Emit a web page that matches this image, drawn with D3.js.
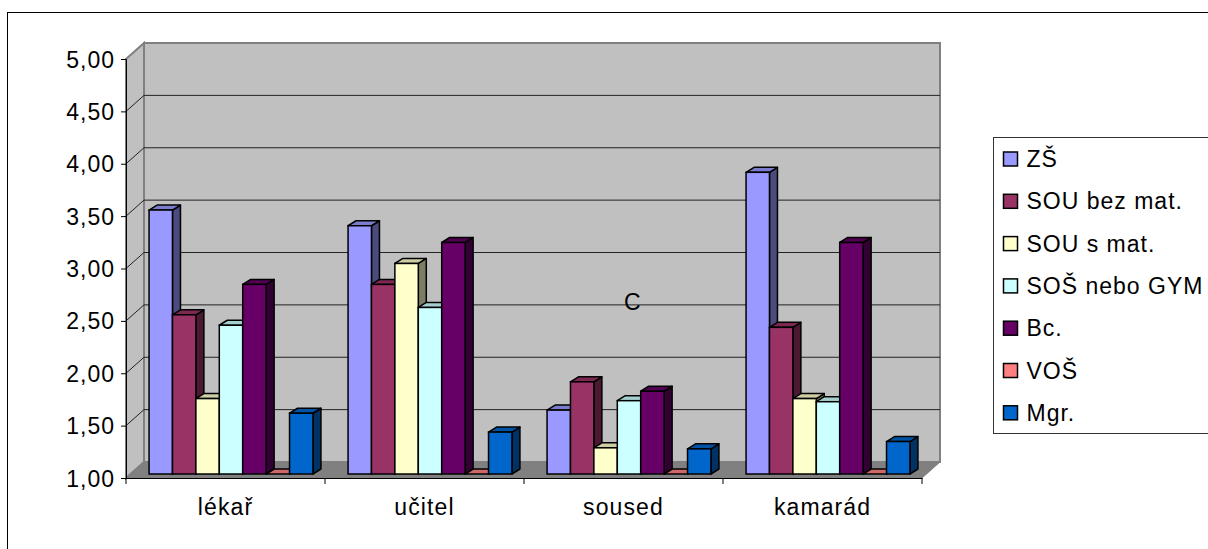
<!DOCTYPE html>
<html><head><meta charset="utf-8">
<script src="https://cdn.jsdelivr.net/npm/d3@7"></script>
<style>
html,body{margin:0;padding:0;background:#fff;overflow:hidden}
text{font-family:"Liberation Sans",Arial,sans-serif;fill:#000}
</style></head>
<body>
<svg id="c" width="1208" height="549"></svg>
<script>
// ---- data ----
const categories = ["lékař", "učitel", "soused", "kamarád"];
const seriesNames = ["ZŠ", "SOU bez mat.", "SOU s mat.", "SOŠ nebo GYM", "Bc.", "VOŠ", "Mgr."];
const seriesColors = ["#9999FF", "#993366", "#FFFFCC", "#CCFFFF", "#660066", "#FF8080", "#0066CC"];
const valZS      = [3.52, 3.37, 1.61, 3.88];
const valSOUbez  = [2.52, 2.81, 1.88, 2.40];
const valSOUs    = [1.72, 3.01, 1.25, 1.72];
const valSOS     = [2.42, 2.59, 1.70, 1.69];
const valBc      = [2.81, 3.21, 1.79, 3.21];
const valVOS     = [0, 0, 0, 0];
const valMgr     = [1.58, 1.40, 1.24, 1.31];
const seriesValues = [valZS, valSOUbez, valSOUs, valSOS, valBc, valVOS, valMgr];
const yTickValues = [1, 1.5, 2, 2.5, 3, 3.5, 4, 4.5, 5];
const annotation = "C";

// ---- layout ----
const svg = d3.select("#c");
const X0 = 126, X1 = 922;
const wallDX = 18, wallDY = -16;      // depth of floor / side wall
const barOX = 5.5, barOY = -4;        // front face offset of bars
const barDX = 8, barDY = -5;          // bar depth
const fontSize = 23;

const y = d3.scaleLinear().domain([1, 5]).range([478, 59]);
const x = d3.scaleBand().domain(categories).range([X0, X1]).paddingInner(0).paddingOuter(0);
const bw = x.bandwidth() / (seriesNames.length + 1.5);
const xs = d3.scaleBand().domain(seriesNames)
  .range([0.75 * bw, 0.75 * bw + bw * seriesNames.length]);

// outer border
svg.append("rect").attr("x", 7.5).attr("y", 12.5).attr("width", 1300).attr("height", 700)
  .attr("fill", "#fff").attr("stroke", "#000").attr("stroke-width", 1);

const yTop = y(5), yBot = y(1);
// back wall
svg.append("rect").attr("x", X0 + wallDX).attr("y", yTop + wallDY)
  .attr("width", X1 - X0).attr("height", yBot - yTop)
  .attr("fill", "#C0C0C0").attr("stroke", "#808080").attr("stroke-width", 2);
// side wall
svg.append("polygon")
  .attr("points", [[X0, yTop], [X0 + wallDX, yTop + wallDY], [X0 + wallDX, yBot + wallDY], [X0, yBot]].join(" "))
  .attr("fill", "#C0C0C0").attr("stroke", "#808080").attr("stroke-width", 2);
// floor
svg.append("polygon")
  .attr("points", [[X0, yBot], [X1, yBot], [X1 + wallDX, yBot + wallDY], [X0 + wallDX, yBot + wallDY]].join(" "))
  .attr("fill", "#808080").attr("stroke", "#808080").attr("stroke-width", 1);

// gridlines
const grid = yTickValues.filter(v => v > 1 && v < 5);
svg.append("g").selectAll("line.bg").data(grid).join("line")
  .attr("x1", X0 + wallDX).attr("x2", X1 + wallDX)
  .attr("y1", d => y(d) + wallDY).attr("y2", d => y(d) + wallDY)
  .attr("stroke", "#222").attr("stroke-width", 1);
svg.append("g").selectAll("line.sg").data(grid).join("line")
  .attr("x1", X0).attr("x2", X0 + wallDX)
  .attr("y1", d => y(d)).attr("y2", d => y(d) + wallDY)
  .attr("stroke", "#222").attr("stroke-width", 1);

// bars
const gBars = svg.append("g");
categories.forEach((cat, ci) => {
  seriesNames.forEach((s, si) => {
    const v = Math.max(1, seriesValues[si][ci]);
    const xl = x(cat) + xs(s) + barOX, xr = xl + xs.bandwidth();
    const yt = y(v) + barOY, yb = y(1) + barOY;
    const col = d3.color(seriesColors[si]);
    const g = gBars.append("g");
    g.append("polygon")
      .attr("points", [[xr, yb], [xr + barDX, yb + barDY], [xr + barDX, yt + barDY], [xr, yt]].join(" "))
      .attr("fill", col.darker(2)).attr("stroke", "#000").attr("stroke-width", 1.5).attr("stroke-linejoin", "round");
    g.append("polygon")
      .attr("points", [[xl, yt], [xr, yt], [xr + barDX, yt + barDY], [xl + barDX, yt + barDY]].join(" "))
      .attr("fill", col.darker(0.6)).attr("stroke", "#000").attr("stroke-width", 1.5).attr("stroke-linejoin", "round");
    if (yb - yt > 0.5) {
      g.append("rect").attr("x", xl).attr("y", yt).attr("width", xr - xl).attr("height", yb - yt)
        .attr("fill", col).attr("stroke", "#000").attr("stroke-width", 1.5);
    }
  });
});

// y axis
const yAxis = d3.axisLeft(y).tickValues(yTickValues).tickSize(5)
  .tickFormat(d => d3.format(".2f")(d).replace(".", ","));
const gy = svg.append("g").attr("transform", `translate(${X0},0)`).call(yAxis);
gy.attr("font-size", fontSize);
gy.select(".domain").attr("stroke", "#000").attr("stroke-width", 1);
gy.selectAll(".tick line").attr("stroke", "#000");
gy.selectAll(".tick text").attr("x", -11).attr("dy", "0.35em")
  .style("font-size", fontSize + "px").style("letter-spacing", "1px").attr("fill", "#000")
  .style("font-family", '"Liberation Sans", Arial, sans-serif');

// x axis
const xAxis = d3.axisBottom(x).tickSize(0);
const gx = svg.append("g").attr("transform", `translate(0,${yBot})`).call(xAxis);
gx.attr("font-size", fontSize);
gx.select(".domain").attr("stroke", "#000").attr("stroke-width", 1);
gx.selectAll(".tick text").attr("y", 37).attr("dy", 0)
  .style("font-size", fontSize + "px").style("letter-spacing", "1.1px").attr("fill", "#000")
  .style("font-family", '"Liberation Sans", Arial, sans-serif');
const bounds = categories.map(c => x(c)).concat([X1]);
svg.append("g").selectAll("line").data(bounds).join("line")
  .attr("x1", d => d).attr("x2", d => d).attr("y1", yBot).attr("y2", yBot + 6)
  .attr("stroke", "#000");

// annotation
svg.append("text").attr("x", 624).attr("y", 310).text(annotation)
  .style("font-size", "23px");

// legend
const lg = svg.append("g").attr("transform", "translate(993.5,137.5)");
lg.append("rect").attr("width", 300).attr("height", 296)
  .attr("fill", "#fff").attr("stroke", "#333").attr("stroke-width", 1);
const items = lg.selectAll("g.it").data(seriesNames).join("g")
  .attr("transform", (d, i) => `translate(0,${21.5 + i * 42.3})`);
items.append("rect").attr("x", 10).attr("y", -7).attr("width", 14).attr("height", 14)
  .attr("fill", (d, i) => seriesColors[i]).attr("stroke", "#000").attr("stroke-width", 1.5);
items.append("text").attr("x", 33).attr("y", 8).text(d => d)
  .style("font-size", fontSize + "px").style("letter-spacing", "1px");
</script>
</body></html>
